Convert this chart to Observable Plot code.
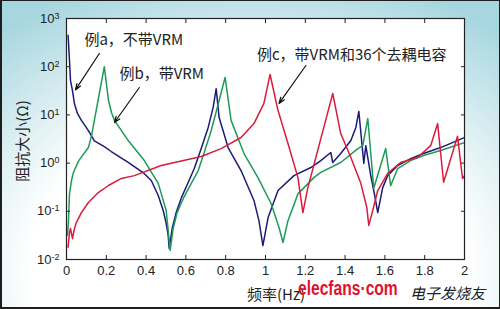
<!DOCTYPE html>
<html><head><meta charset="utf-8">
<script src="https://cdn.jsdelivr.net/npm/d3@7"></script>
<script src="https://cdn.jsdelivr.net/npm/@observablehq/plot@0.6"></script>
<style>
html,body{margin:0;padding:0;}
#wrap{position:relative;width:500px;height:309px;overflow:hidden;
 background: radial-gradient(ellipse 80% 100% at 50% 88%, #ffffff 55%, #a6d6df 100%);
 font-family:"Liberation Sans",Arial,sans-serif;}
#chart{position:absolute;left:0;top:0;}
.lbl{position:absolute;white-space:nowrap;color:#222;}
#border{position:absolute;left:0;top:0;width:500px;height:309px;box-sizing:border-box;
 border-style:solid;border-color:#1e1e1e;border-width:1px 1px 2px 2px;pointer-events:none;}
</style></head>
<body><div id="wrap"><div id="chart"></div>
<div class="lbl" id="ytitle" style="left:21px;top:141px;transform:translate(-50%,-50%) rotate(-90deg);font-family:'Noto Sans CJK SC',sans-serif;font-size:15px;">阻抗大小(Ω)</div>
<div class="lbl" style="left:247px;top:283px;font-family:'Noto Sans CJK SC',sans-serif;font-size:15px;">频率(Hz)</div>
<div class="lbl" style="left:298px;top:277px;font-family:'Liberation Sans',Arial,sans-serif;font-weight:bold;font-size:20px;color:#e0132e;transform:scaleX(0.78);transform-origin:0 0;">elecfans·com</div>
<div class="lbl" style="left:410px;top:282px;font-family:'Noto Sans CJK SC',serif;font-size:15px;color:#222;font-style:italic;">电子发烧友</div>
<div id="border"></div>
</div>
<script>
// Series a: 不带VRM (blue)
const freqA = [0.008,0.015,0.020,0.030,0.040,0.055,0.075,0.11,0.14,0.19,0.225,0.31,0.39,0.426,0.461,0.486,0.50,0.511,0.516,0.531,0.551,0.576,0.612,0.642,0.677,0.712,0.737,0.752,0.767,0.812,0.877,0.942,0.967,0.987,1.013,1.063,1.143,1.228,1.278,1.328,1.338,1.378,1.429,1.454,1.469,1.494,1.504,1.529,1.549,1.564,1.589,1.614,1.664,1.729,1.794,1.880,2.0];
const impA  = [450,135,52,32,17,10.7,7.7,4.7,2.9,2.2,1.74,1.03,0.61,0.435,0.213,0.104,0.0586,0.0315,0.0169,0.044,0.094,0.185,0.40,0.77,2.0,5.5,14.3,35,8.8,2.1,0.70,0.168,0.064,0.0195,0.074,0.27,0.55,0.81,1.13,1.66,1.03,1.58,2.94,5.5,11.8,0.98,2.3,0.55,0.21,0.094,0.31,0.55,0.89,1.24,1.58,2.1,3.4];
// Series b: 带VRM (green)
const freqB = [0.005,0.010,0.015,0.025,0.035,0.060,0.110,0.125,0.140,0.165,0.190,0.211,0.226,0.241,0.311,0.391,0.461,0.501,0.521,0.536,0.556,0.591,0.627,0.662,0.692,0.727,0.767,0.797,0.827,0.892,0.962,1.028,1.068,1.088,1.113,1.163,1.243,1.278,1.378,1.464,1.489,1.514,1.544,1.604,1.629,1.664,1.729,1.794,1.880,2.0];
const impB  = [0.032,0.064,0.23,0.435,0.64,1.1,2.1,3.6,7.7,27.8,100,19.9,11.2,7.7,2.9,1.13,0.38,0.104,0.0154,0.044,0.094,0.20,0.38,0.70,1.66,4.7,19.9,60,7.7,1.58,0.50,0.145,0.046,0.0225,0.064,0.23,0.50,0.64,1.03,2.0,2.3,8.4,0.30,2.0,0.34,0.77,1.13,1.44,1.82,2.67];
// Series c: 带VRM和36个去耦电容 (red)
const freqC = [0.008,0.015,0.020,0.030,0.040,0.050,0.075,0.110,0.160,0.211,0.276,0.341,0.476,0.677,0.777,0.877,0.942,0.992,1.023,1.063,1.113,1.163,1.188,1.213,1.253,1.293,1.338,1.378,1.429,1.479,1.509,1.519,1.539,1.564,1.614,1.679,1.764,1.830,1.865,1.895,1.965,1.990,2.0];
const impC  = [0.018,0.036,0.044,0.027,0.044,0.059,0.094,0.152,0.245,0.343,0.48,0.55,0.89,1.37,2.0,3.4,6.6,17.3,69,12.3,2.55,0.50,0.094,0.31,1.31,5.5,27.8,4.1,1.31,0.38,0.12,0.051,0.104,0.27,0.61,1.03,1.31,2.3,6.6,0.40,3.6,0.48,0.55];

const seriesNames = ["a","b","c"];
const seriesColors = ["#1b1b78","#1f9a58","#d91c3c"];

const xTicks = [0,0.2,0.4,0.6,0.8,1,1.2,1.4,1.6,1.8,2];
const xTickLabels = ["0","0.2","0.4","0.6","0.8","1","1.2","1.4","1.6","1.8","2"];
const yTicks = [0.01,0.1,1,10,100,1000];
const yTickExp = ["-2","-1","0","1","2","3"];

// annotations
const noteText = ["例a，不带VRM","例b，带VRM","例c，带VRM和36个去耦电容"];
const noteF = [0.09,0.266,0.957];
const noteZ = [350,69,171];
const arrowF1 = [0.165,0.366,1.203];
const arrowZ1 = [188,37,106];
const arrowF2 = [0.045,0.241,1.068];
const arrowZ2 = [33,6.95,17.3];

const rows = [];
[[freqA,impA],[freqB,impB],[freqC,impC]].forEach(([fs,zs],k)=>{
  fs.forEach((f,i)=>rows.push({f, z: zs[i], s: seriesNames[k]}));
});
const notes = noteText.map((t,i)=>({t, f: noteF[i], z: noteZ[i]}));
const arrows = arrowF1.map((f,i)=>({x1:f, y1:arrowZ1[i], x2:arrowF2[i], y2:arrowZ2[i]}));

const xIdx = d => xTicks.findIndex(v => Math.abs(v - d) < 1e-9);
const yIdx = d => yTicks.findIndex(v => Math.abs(Math.log10(v) - Math.log10(d)) < 1e-6);

const chart = Plot.plot({
  width: 500, height: 309,
  marginTop: 18, marginRight: 36, marginBottom: 50, marginLeft: 66,
  style: {background: "transparent", fontFamily: "'Liberation Sans',Arial,sans-serif", fontSize: "13px", color: "#222"},
  x: {domain: [0,2]},
  y: {type: "log", domain: [0.01,1000]},
  color: {domain: seriesNames, range: seriesColors},
  marks: [
    Plot.frame({fill: "white", stroke: null}),
    Plot.line(rows, {x: "f", y: "z", z: "s", stroke: "s", strokeWidth: 1.5, clip: true}),
    Plot.frame({stroke: "#222", strokeWidth: 1.2}),
    Plot.axisX({anchor: "bottom", ticks: xTicks, tickSize: -4, tickPadding: 10, tickFormat: d => xTickLabels[xIdx(d)], label: null, stroke:"#222"}),
    Plot.axisX({anchor: "top", ticks: xTicks, tickSize: -4, tickFormat: ()=>"", label: null, stroke:"#222"}),
    Plot.axisY({anchor: "left", ticks: yTicks, tickSize: -4, tickPadding: 11, tickFormat: d => "10^" + yTickExp[yIdx(d)], label: null, stroke:"#222"}),
    Plot.axisY({anchor: "right", ticks: yTicks, tickSize: -4, tickFormat: ()=>"", label: null, stroke:"#222"}),
    Plot.arrow(arrows, {x1:"x1", y1:"y1", x2:"x2", y2:"y2", stroke:"#111", strokeWidth:1.2, headLength:8, headAngle:40}),
    Plot.text(notes, {x:"f", y:"z", text:"t", textAnchor:"start", fontSize:15, fill:"#222", fontFamily:"'Noto Sans CJK SC','Liberation Sans',sans-serif"})
  ]
});
document.getElementById("chart").appendChild(chart);
// render 10^k with a true superscript
chart.querySelectorAll("text").forEach(t=>{
  const s = t.textContent;
  if (s.startsWith("10^")) {
    const e = s.slice(3);
    t.textContent = "10";
    const sp = document.createElementNS("http://www.w3.org/2000/svg","tspan");
    sp.setAttribute("dy","-0.45em");
    sp.setAttribute("font-size","9px");
    sp.textContent = e;
    t.appendChild(sp);
  }
});
</script>
</body></html>
